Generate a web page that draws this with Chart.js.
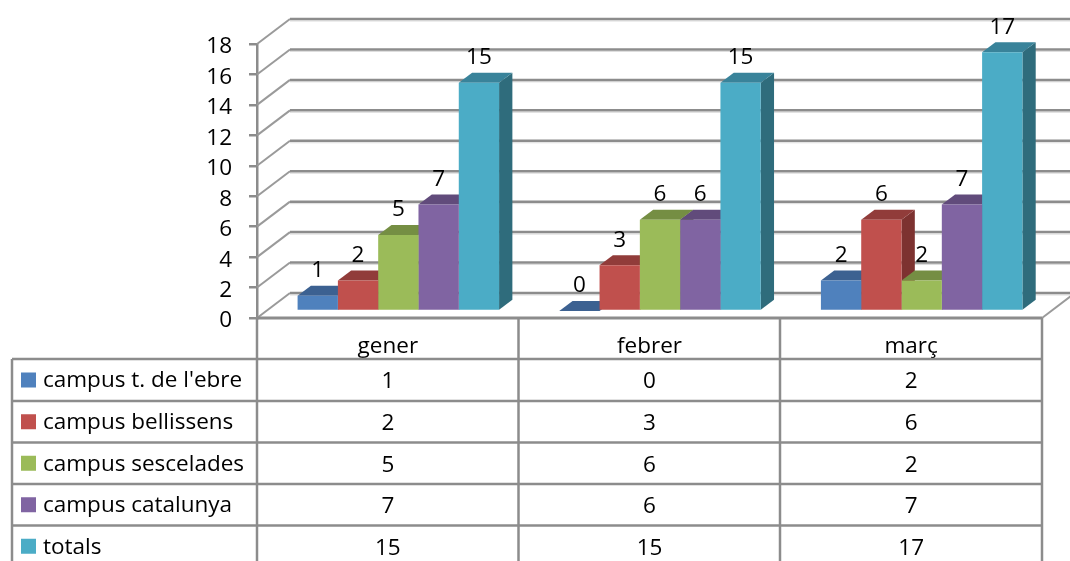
<!DOCTYPE html>
<html>
<head>
<meta charset="utf-8">
<style>
  html, body { margin: 0; padding: 0; background: #fff; overflow: hidden; }
  canvas { display: block; }
</style>
<script src="https://cdn.jsdelivr.net/npm/chart.js@4"></script>
</head>
<body>
<canvas id="chart" width="1070" height="561"></canvas>
<script>
const months = ['gener', 'febrer', 'març'];
const seriesNames = ['campus t. de l\'ebre', 'campus bellissens', 'campus sescelades', 'campus catalunya', 'totals'];
const tortosa = [1, 0, 2];
const bellissens = [2, 3, 6];
const sescelades = [5, 6, 2];
const catalunya = [7, 6, 7];
const totals = [15, 15, 17];
const seriesValues = [tortosa, bellissens, sescelades, catalunya, totals];

const frontColors = ['#4f81bd', '#c0504d', '#9bbb59', '#8064a2', '#4bacc6'];
const topColors = ['#3c6191', '#913c3a', '#758e43', '#614b7b', '#39839a'];
const sideColors = ['#335279', '#7d3230', '#637838', '#523f68', '#2f6c7c'];

const FONT_FAMILY = '"Open Sans"';
const FONT_SIZE = 22.5;
const FONT = FONT_SIZE + 'px ' + FONT_FAMILY;
const LINE = '#8c8c8c';

// 3d offsets: back wall from the front plane, bars from the front plane, bar depth
const wallDx = 33, wallDy = -25;
const barDx = 10.5, barDy = -7;
const depthDx = 13.3, depthDy = -10;

const tableLeft = 12, tableRows = [359, 401, 442.5, 484, 525.5, 567];
const textNudge = 2; // Open Sans sits a bit high on a middle baseline

function poly(ctx, pts, fill) {
  ctx.fillStyle = fill;
  ctx.beginPath();
  pts.forEach((p, i) => i ? ctx.lineTo(p[0], p[1]) : ctx.moveTo(p[0], p[1]));
  ctx.closePath();
  ctx.fill();
}

function seg(ctx, x1, y1, x2, y2, color, width) {
  ctx.strokeStyle = color;
  ctx.lineWidth = width;
  ctx.beginPath();
  ctx.moveTo(x1, y1);
  ctx.lineTo(x2, y2);
  ctx.stroke();
}

const walls = {
  id: 'walls',
  beforeDatasetsDraw(chart) {
    const { ctx, chartArea, scales } = chart;
    ctx.save();
    scales.y.ticks.forEach(t => {
      const y = scales.y.getPixelForValue(t.value);
      seg(ctx, chartArea.left, y, chartArea.left + wallDx, y + wallDy, '#9a9a9a', 2);
      seg(ctx, chartArea.left + wallDx, y + wallDy + 2, 1070, y + wallDy + 2, '#dcdcdc', 1);
      seg(ctx, chartArea.left + wallDx, y + wallDy, 1070, y + wallDy, LINE, 2.5);
    });
    const y0 = scales.y.getPixelForValue(0);
    seg(ctx, chartArea.right, y0, chartArea.right + wallDx, y0 + wallDy, '#9a9a9a', 2);
    ctx.restore();
  }
};

// all side and top faces go down first, left to right, then the library paints the fronts over them
const bars3d = {
  id: 'bars3d',
  beforeDatasetsDraw(chart) {
    const { ctx } = chart;
    ctx.save();
    ctx.translate(barDx, barDy);
    months.forEach((m, j) => {
      seriesValues.forEach((vals, i) => {
        const bar = chart.getDatasetMeta(i).data[j];
        const { x, y, base, width } = bar.getProps(['x', 'y', 'base', 'width'], true);
        const l = x - width / 2, r = x + width / 2;
        poly(ctx, [[r, y], [r + depthDx, y + depthDy], [r + depthDx, base + depthDy], [r, base]], sideColors[i]);
        poly(ctx, [[l, y], [l + depthDx, y + depthDy], [r + depthDx, y + depthDy], [r, y]], topColors[i]);
      });
    });
    ctx.restore();
  },
  beforeDatasetDraw(chart) {
    chart.ctx.save();
    chart.ctx.translate(barDx, barDy);
  },
  afterDatasetDraw(chart) {
    chart.ctx.restore();
  }
};

const valueLabels = {
  id: 'valueLabels',
  afterDatasetsDraw(chart) {
    const { ctx } = chart;
    ctx.save();
    ctx.font = FONT;
    ctx.fillStyle = '#000';
    ctx.textAlign = 'center';
    ctx.textBaseline = 'middle';
    seriesValues.forEach((vals, i) => {
      chart.getDatasetMeta(i).data.forEach((bar, j) => {
        ctx.fillText(String(vals[j]), bar.x + barDx, bar.y + barDy - 27 + textNudge);
      });
    });
    ctx.restore();
  }
};

const dataTable = {
  id: 'dataTable',
  afterDraw(chart) {
    const { ctx, chartArea, scales } = chart;
    const edges = [chartArea.left, 518.5, 780, chartArea.right];
    ctx.save();
    // horizontal rules
    tableRows.forEach(y => seg(ctx, tableLeft, y, chartArea.right, y, LINE, 2.5));
    seg(ctx, chartArea.left, chartArea.bottom, chartArea.right, chartArea.bottom, LINE, 3);
    // vertical rules
    seg(ctx, tableLeft, tableRows[0], tableLeft, 561, LINE, 2.5);
    edges.forEach(x => seg(ctx, x, chartArea.bottom, x, 561, LINE, 2.5));

    ctx.font = FONT;
    ctx.textBaseline = 'middle';
    seriesNames.forEach((name, i) => {
      const cy = (tableRows[i] + tableRows[i + 1]) / 2;
      ctx.fillStyle = frontColors[i];
      ctx.fillRect(21, cy - 7.5, 15, 15);
      ctx.fillStyle = '#000';
      ctx.textAlign = 'left';
      ctx.fillText(name, 43, cy + textNudge - 1);
      ctx.textAlign = 'center';
      seriesValues[i].forEach((v, j) => {
        ctx.fillText(String(v), scales.x.getPixelForValue(j), cy + textNudge);
      });
    });
    ctx.restore();
  }
};

new Chart(document.getElementById('chart'), {
  type: 'bar',
  data: {
    labels: months,
    datasets: seriesValues.map((vals, i) => ({
      label: seriesNames[i],
      data: vals,
      backgroundColor: frontColors[i],
      clip: false
    }))
  },
  options: {
    responsive: false,
    animation: false,
    devicePixelRatio: 1,
    layout: { padding: { left: 0, right: 28, top: 44, bottom: 0 } },
    plugins: { legend: { display: false }, tooltip: { enabled: false } },
    categoryPercentage: 0.77,
    barPercentage: 1,
    scales: {
      x: {
        grid: { display: false },
        border: { display: false },
        ticks: { color: '#000', font: { family: FONT_FAMILY, size: FONT_SIZE }, padding: 7, maxRotation: 0 },
        afterFit(scale) { scale.height = 243; }
      },
      y: {
        min: 0,
        max: 18,
        grid: { drawOnChartArea: false, color: LINE, lineWidth: 2.5, tickLength: 8 },
        border: { color: LINE, width: 2.5 },
        ticks: { stepSize: 2, color: '#000', font: { family: FONT_FAMILY, size: FONT_SIZE }, padding: 17, labelOffset: 3 },
        afterFit(scale) { scale.width = 257; }
      }
    }
  },
  plugins: [walls, bars3d, valueLabels, dataTable]
});
</script>
</body>
</html>
